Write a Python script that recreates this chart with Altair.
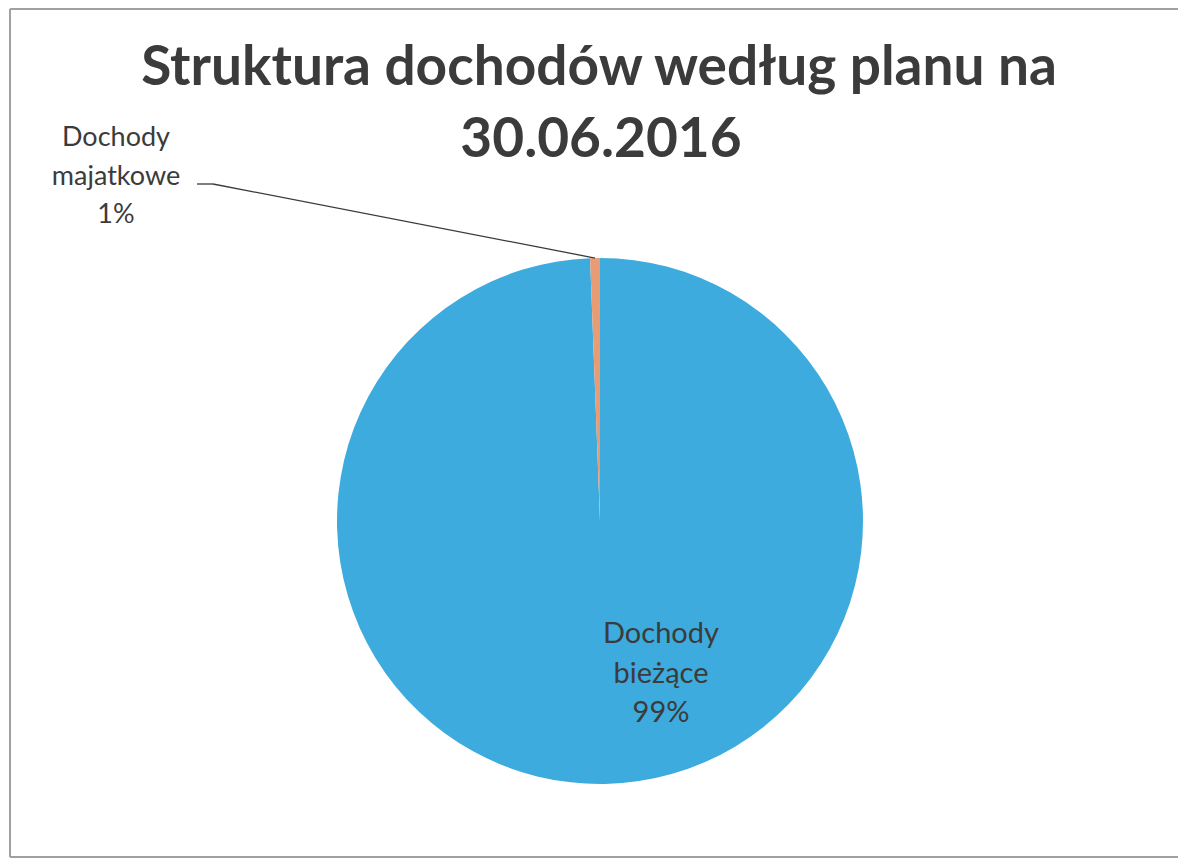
import math
import altair as alt
import pandas as pd

# ---- data ----
categories = ["Dochody bieżące", "Dochody majatkowe"]
values = [99.4, 0.6]
colors = ["#3DABDD", "#E99C73"]
title_lines = ["Struktura dochodów według planu na", "30.06.2016"]

# ---- geometry / style ----
W, H = 1170, 850
CX, CY, R = 592, 513, 263
FONT = "Lato"
TEXT_COLOR = "#3b3b3b"

total = sum(values)
pct = [round(v / total * 100) for v in values]
df = pd.DataFrame({"cat": categories, "value": values, "order": list(range(len(values)))})
one = pd.DataFrame({"k": [0]})

pie = alt.Chart(df).mark_arc(radius=R).encode(
    theta=alt.Theta("value:Q", stack=True),
    color=alt.Color("cat:N", scale=alt.Scale(domain=categories, range=colors), legend=None),
    order=alt.Order("order:Q"),
    x=alt.value(CX),
    y=alt.value(CY),
)

# labels (multi-line text built from data)
lab_left = categories[1].split(" ") + [f"{pct[1]}%"]
lab_right = categories[0].split(" ") + [f"{pct[0]}%"]

label_left = alt.Chart(one).mark_text(
    font=FONT, fontSize=27, color=TEXT_COLOR, align="center", baseline="alphabetic", lineHeight=38.5
).encode(x=alt.value(108), y=alt.value(138), text=alt.value(lab_left))

label_right = alt.Chart(one).mark_text(
    font=FONT, fontSize=29, color=TEXT_COLOR, align="center", baseline="alphabetic", lineHeight=39.5
).encode(x=alt.value(653), y=alt.value(635), text=alt.value(lab_right))

# leader line to the small slice
mid = 2 * math.pi * (values[0] + values[1] / 2) / total
ex = CX + R * math.sin(mid)
ey = CY - R * math.cos(mid)
lead1 = alt.Chart(one).mark_rule(color="#3a3a3a", strokeWidth=1.3).encode(
    x=alt.value(189), x2=alt.value(205), y=alt.value(176), y2=alt.value(176)
)
lead2 = alt.Chart(one).mark_rule(color="#3a3a3a", strokeWidth=1.3).encode(
    x=alt.value(205), x2=alt.value(ex), y=alt.value(176), y2=alt.value(ey)
)

# title
t1 = alt.Chart(one).mark_text(
    font=FONT, fontSize=55, fontWeight="bold", color=TEXT_COLOR, align="center", baseline="alphabetic"
).encode(x=alt.value(591), y=alt.value(77), text=alt.value(title_lines[0]))
t2 = alt.Chart(one).mark_text(
    font=FONT, fontSize=55, fontWeight="bold", color=TEXT_COLOR, align="center", baseline="alphabetic"
).encode(x=alt.value(593), y=alt.value(149), text=alt.value(title_lines[1]))

# frame (left, top, bottom edges)
FR = dict(color="#a0a0a0", strokeWidth=2)
f_left = alt.Chart(one).mark_rule(**FR).encode(
    x=alt.value(2), x2=alt.value(2), y=alt.value(1), y2=alt.value(849)
)
f_top = alt.Chart(one).mark_rule(**FR).encode(
    x=alt.value(2), x2=alt.value(W), y=alt.value(1), y2=alt.value(1)
)
f_bottom = alt.Chart(one).mark_rule(**FR).encode(
    x=alt.value(2), x2=alt.value(W), y=alt.value(849), y2=alt.value(849)
)

chart = alt.layer(f_left, f_top, f_bottom, pie, lead1, lead2, label_left, label_right, t1, t2).properties(
    width=W, height=H, padding=0, autosize="none", background="white"
).configure_view(stroke="transparent", strokeWidth=0)

chart.save("out.html", embed_options={"renderer": "svg", "actions": False})
